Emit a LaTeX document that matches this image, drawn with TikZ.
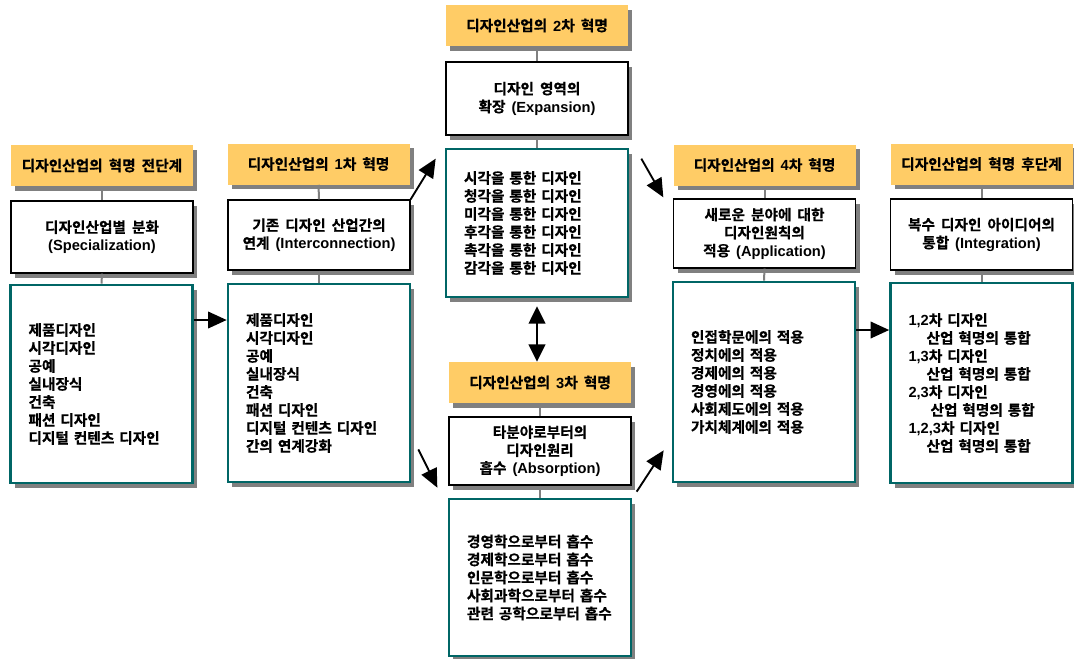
\documentclass[tikz,border=0pt]{standalone}
\usepackage{fontspec}
\setmainfont{Noto Sans CJK KR}[BoldFont={Noto Sans CJK KR Bold}, BoldFeatures={FakeBold=0.6}, WordSpace=1.8]
\newfontfamily\latfont{Liberation Sans}
\usetikzlibrary{arrows.meta,shadows}
\newlength\upx \setlength\upx{0.75pt}
\definecolor{hdrfill}{RGB}{255,204,102}
\definecolor{tealline}{RGB}{0,102,102}
\newcommand\en[1]{{\latfont\bfseries #1}}

\begin{document}
\begin{tikzpicture}[x=0.75pt,y=-0.75pt,
  every node/.style={font=\fontsize{11}{13.5}\selectfont\bfseries},
  boxshadow/.style={drop shadow={shadow xshift=3pt,shadow yshift=-3.5pt,fill=gray,opacity=1}},
  hdrbox/.style={boxshadow, fill=hdrfill, minimum width=182\upx, minimum height=41\upx, inner sep=0pt},
  namebox/.style={boxshadow, fill=white, draw=black, line width=1pt, minimum width=182\upx, align=center, inner sep=0pt},
  listbox/.style={boxshadow, fill=white, draw=tealline, line width=2pt, text width=146\upx, inner xsep=18\upx, inner ysep=0pt, align=left},
  link/.style={draw=gray, line width=1.5pt},
  arr/.style={-{Triangle[length=14pt,width=12.5pt]}, line width=1.4pt},
  darr/.style={{Triangle[length=13pt,width=12.5pt]}-{Triangle[length=13pt,width=12.5pt]}, line width=1.4pt}
]
\useasboundingbox (0,0) rectangle (1074,658);

% stage before the revolution
\node[hdrbox] (h1) at (102,165.5) {디자인산업의 혁명 전단계};
\node[namebox, minimum height=72\upx] (n1) at (102,237) {디자인산업별 분화\\\en{(Specialization)}};
\node[listbox, minimum height=198\upx] (l1) at (101.5,384) {제품디자인\\시각디자인\\공예\\실내장식\\건축\\패션~디자인\\디지털~컨텐츠~디자인};

% first revolution
\node[hdrbox] (h2) at (318.5,164) {디자인산업의 \en{1}차 혁명};
\node[namebox, minimum height=70\upx] (n2) at (319,235) {기존 디자인 산업간의\\연계 \en{(Interconnection)}};
\node[listbox, minimum height=198\upx] (l2) at (319,383) {제품디자인\\시각디자인\\공예\\실내장식\\건축\\패션~디자인\\디지털~컨텐츠~디자인\\간의~연계강화};

% second revolution
\node[hdrbox] (h3) at (537,25.5) {디자인산업의 \en{2}차 혁명};
\node[namebox, minimum height=73\upx] (n3) at (537,98.5) {디자인 영역의\\확장 \en{(Expansion)}};
\node[listbox, minimum height=148\upx] (l3) at (537,223) {시각을~통한~디자인\\청각을~통한~디자인\\미각을~통한~디자인\\후각을~통한~디자인\\촉각을~통한~디자인\\감각을~통한~디자인};

% third revolution
\node[hdrbox] (h3b) at (540,382.5) {디자인산업의 \en{3}차 혁명};
\node[namebox, minimum height=68\upx] (n3b) at (540,451) {타분야로부터의\\디자인원리\\흡수 \en{(Absorption)}};
\node[listbox, minimum height=157\upx] (l3b) at (540,577.5) {경영학으로부터~흡수\\경제학으로부터~흡수\\인문학으로부터~흡수\\사회과학으로부터~흡수\\관련~공학으로부터~흡수};

% fourth revolution
\node[hdrbox] (h4) at (764.5,165) {디자인산업의 \en{4}차 혁명};
\node[namebox, minimum height=69\upx] (n4) at (764.5,233.5) {새로운 분야에 대한\\디자인원칙의\\적용 \en{(Application)}};
\node[listbox, minimum height=200\upx] (l4) at (764,382) {인접학문에의~적용\\정치에의~적용\\경제에의~적용\\경영에의~적용\\사회제도에의~적용\\가치체계에의~적용};

% stage after the revolution
\node[hdrbox] (h5) at (981.5,164) {디자인산업의 혁명 후단계};
\node[namebox, minimum height=71\upx] (n5) at (981.5,234.5) {복수 디자인 아이디어의\\통합 \en{(Integration)}};
\node[listbox, minimum height=200\upx] (l5) at (981.5,383) {\en{1,2}차~디자인\\\hspace*{18\upx}산업~혁명의~통합\\\en{1,3}차~디자인\\\hspace*{18\upx}산업~혁명의~통합\\\en{2,3}차~디자인\\\hspace*{22\upx}산업~혁명의~통합\\\en{1,2,3}차~디자인\\\hspace*{18\upx}산업~혁명의~통합};

% vertical links inside each column
\foreach \c in {1,2,3,3b,4,5}{
  \draw[link] (h\c.south) -- (n\c.north);
  \draw[link] (n\c.south) -- (l\c.north);
}

% flow arrows
\coordinate (p1) at ([yshift=64\upx]l1.east);
\draw[arr] (p1) -- (p1 -| l2.west);
\draw[arr] (n2.north east) -- ([shift={(-9,11)}]l3.north west);
\draw[arr] ([shift={(12,11)}]l3.north east) -- ([shift={(-9.5,-1)}]n4.north west);
\draw[arr] ([shift={(7,-34)}]l2.south east) -- ([shift={(-11,2)}]n3b.south west);
\draw[arr] ([shift={(5,6)}]n3b.south east) -- ([shift={(-8,-33)}]l4.south west);
\coordinate (p2) at ([yshift=52\upx]l4.east);
\draw[arr] (p2) -- (p2 -| l5.west);
\coordinate (d1) at ([yshift=-8\upx]l3.south);
\draw[darr] (d1) -- (d1 |- h3b.north);
\end{tikzpicture}
\end{document}
